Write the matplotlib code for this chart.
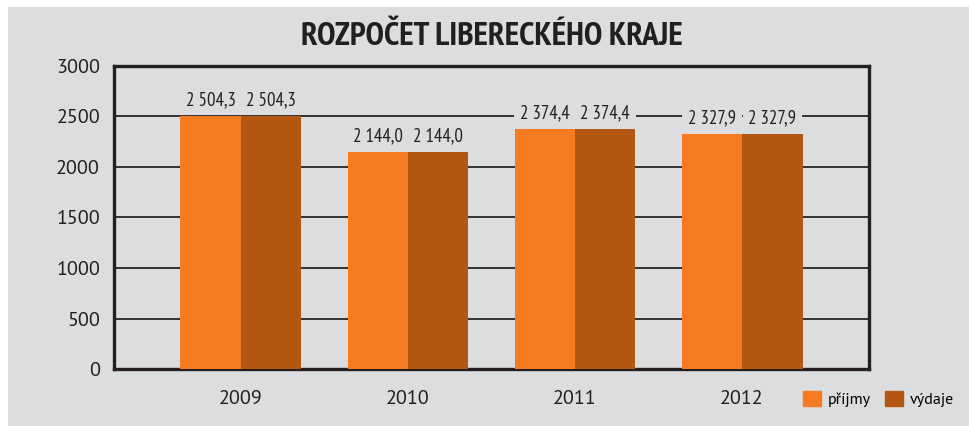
import matplotlib.pyplot as plt
import numpy as np
from matplotlib.patches import Rectangle, Patch

# === Data ===
years = ['2009', '2010', '2011', '2012']
prijmy = [2504.3, 2144.0, 2374.4, 2327.9]
vydaje = [2504.3, 2144.0, 2374.4, 2327.9]

c_prijmy = '#F47B20'
c_vydaje = '#B35712'
bg = '#DCDDDF'
dark = '#231F20'
narrow = ['PT Sans Narrow', 'DejaVu Sans']
plain = ['PT Sans', 'DejaVu Sans']

fig = plt.figure(figsize=(9.69, 4.26), dpi=100, facecolor='white')
# šedý panel
fig.patches.append(Rectangle((8 / 969, 0), 1, 1 - 7 / 426, transform=fig.transFigure,
                             facecolor=bg, edgecolor='none', zorder=-10))

ax = fig.add_axes([114 / 969, 1 - 369 / 426, (869 - 114) / 969, (369 - 66) / 426])
ax.set_facecolor(bg)

x = np.arange(len(years))
w = 0.362
b1 = ax.bar(x - w / 2, prijmy, w, color=c_prijmy, zorder=3)
b2 = ax.bar(x + w / 2, vydaje, w, color=c_vydaje, zorder=3)

def fmt(v):
    return f'{v:,.1f}'.replace(',', ' ').replace('.', ',')

for bars in (b1, b2):
    for r in bars:
        ax.annotate(fmt(r.get_height()), (r.get_x() + r.get_width() / 2, r.get_height()),
                    xytext=(0, 5), textcoords='offset points', ha='center', va='bottom',
                    fontsize=13.5, family=narrow, color=dark, zorder=4,
                    bbox=dict(boxstyle='square,pad=0.3', facecolor=bg, edgecolor='none'))

ax.set_xlim(-0.76, 3.76)
ax.set_ylim(0, 3000)
ax.set_yticks(range(0, 3001, 500))
ax.set_xticks(x)
ax.set_xticklabels(years)
ax.tick_params(axis='both', length=0, labelsize=14.5, colors=dark)
ax.tick_params(axis='y', pad=10)
ax.tick_params(axis='x', pad=15)
for lab in ax.get_xticklabels() + ax.get_yticklabels():
    lab.set_family(plain)
ax.yaxis.grid(True, color='#333333', linewidth=1.4, zorder=0)
ax.set_axisbelow(True)
for s in ax.spines.values():
    s.set_linewidth(2.4)
    s.set_color(dark)

fig.text(492 / 969, 1 - 37 / 426, 'ROZPOČET LIBERECKÉHO KRAJE', ha='center', va='center',
         fontsize=24, fontweight='bold', family=narrow, color=dark)

handles = [Patch(color=c_prijmy, label='příjmy'), Patch(color=c_vydaje, label='výdaje')]
fig.legend(handles=handles, loc='center left', bbox_to_anchor=(803 / 969, 1 - 399 / 426),
           ncol=2, frameon=False, prop={'family': plain, 'size': 11.5},
           handlelength=1.1, handleheight=1.1, handletextpad=0.45, columnspacing=0.9,
           borderaxespad=0, borderpad=0)

fig.savefig('out.png', dpi=100, facecolor='white')
